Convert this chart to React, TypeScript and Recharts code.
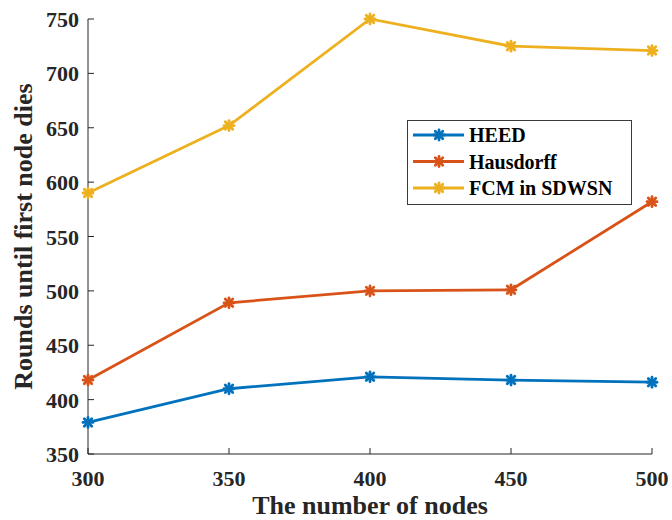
import React from 'react';
import { LineChart, Line, XAxis, YAxis, Legend } from 'recharts';

// Network sizes (x axis)
const nodeCounts = [300, 350, 400, 450, 500];

// Rounds until the first node dies, per protocol
const heed = [379, 410, 421, 418, 416];
const hausdorff = [418, 489, 500, 501, 582];
const fcmSdwsn = [590, 652, 750, 725, 721];

const xTicks = [300, 350, 400, 450, 500];
const yTicks = [350, 400, 450, 500, 550, 600, 650, 700, 750];

const seriesDefs = [
  { key: 'heed', name: 'HEED', color: '#0072BD' },
  { key: 'hausdorff', name: 'Hausdorff', color: '#D95319' },
  { key: 'fcm', name: 'FCM in SDWSN', color: '#EDB120' },
];

const rows = nodeCounts.map((n, i) => ({
  nodes: n,
  heed: heed[i],
  hausdorff: hausdorff[i],
  fcm: fcmSdwsn[i],
}));

const FONT = '"Liberation Serif", "Times New Roman", serif';
const AXIS = '#262626';
const TICK = 6;

// asterisk marker (plus + cross)
const Star = ({ cx, cy, color, r = 5 }: any) => {
  if (cx == null || cy == null) return null;
  const d = r * 0.75;
  return (
    <g stroke={color} strokeWidth={2.8} strokeLinecap="round">
      <line x1={cx - r} y1={cy} x2={cx + r} y2={cy} />
      <line x1={cx} y1={cy - r} x2={cx} y2={cy + r} />
      <line x1={cx - d} y1={cy - d} x2={cx + d} y2={cy + d} />
      <line x1={cx - d} y1={cy + d} x2={cx + d} y2={cy - d} />
    </g>
  );
};

const BottomTick = (p: any) => (
  <g>
    <line x1={p.x} y1={p.y} x2={p.x} y2={p.y - TICK} stroke={AXIS} strokeWidth={1} />
    <text x={p.x} y={p.y + 32} textAnchor="middle" fontFamily={FONT} fontWeight="bold" fontSize={22} fill={AXIS}>
      {p.payload.value}
    </text>
  </g>
);

const LeftTick = (p: any) => (
  <g>
    <line x1={p.x} y1={p.y} x2={p.x + TICK} y2={p.y} stroke={AXIS} strokeWidth={1} />
    <text x={p.x - 9} y={p.y + 8} textAnchor="end" fontFamily={FONT} fontWeight="bold" fontSize={22} fill={AXIS}>
      {p.payload.value}
    </text>
  </g>
);

const TopTick = (p: any) => (
  <line x1={p.x} y1={p.y} x2={p.x} y2={p.y + TICK} stroke={AXIS} strokeWidth={1} />
);

const RightTick = (p: any) => (
  <line x1={p.x} y1={p.y} x2={p.x - TICK} y2={p.y} stroke={AXIS} strokeWidth={1} />
);

const XTitle = ({ viewBox }: any) => (
  <text
    x={viewBox.x + viewBox.width / 2}
    y={viewBox.y + 60}
    textAnchor="middle"
    fontFamily={FONT}
    fontWeight="bold"
    fontSize={26}
    fill={AXIS}
  >
    The number of nodes
  </text>
);

const YTitle = ({ viewBox }: any) => {
  const cx = 32;
  const cy = viewBox.y + viewBox.height / 2;
  return (
    <text
      x={cx}
      y={cy}
      transform={`rotate(-90, ${cx}, ${cy})`}
      textAnchor="middle"
      fontFamily={FONT}
      fontWeight="bold"
      fontSize={26}
      fill={AXIS}
    >
      Rounds until first node dies
    </text>
  );
};

const LegendBox = () => (
  <svg width={225} height={85} style={{ display: 'block' }}>
    <rect x={0.5} y={0.5} width={224} height={84} fill="#fff" stroke="#3a3a3a" strokeWidth={1} />
    {seriesDefs.map((s, i) => {
      const cy = 15 + i * 26.5;
      return (
        <g key={s.key}>
          <line x1={6} y1={cy} x2={57} y2={cy} stroke={s.color} strokeWidth={2.8} />
          <Star cx={32} cy={cy} color={s.color} />
          <text x={62} y={cy + 7} fontFamily={FONT} fontWeight="bold" fontSize={20} fill="#000">
            {s.name}
          </text>
        </g>
      );
    })}
  </svg>
);

export default function App() {
  return (
    <div style={{ position: 'absolute', left: 0, top: 0, width: 672, height: 520, background: '#fff' }}>
      <LineChart width={672} height={520} data={rows} margin={{ top: 19, right: 20, left: 0, bottom: 0 }}>
        <XAxis
          dataKey="nodes"
          type="number"
          domain={[300, 500]}
          ticks={xTicks}
          height={66}
          tickSize={0}
          tickMargin={0}
          tickLine={false}
          axisLine={{ stroke: AXIS, strokeWidth: 1 }}
          tick={BottomTick}
          interval={0}
          label={<XTitle />}
        />
        <XAxis
          xAxisId="top"
          orientation="top"
          dataKey="nodes"
          type="number"
          domain={[300, 500]}
          ticks={xTicks}
          height={0}
          tickSize={0}
          tickMargin={0}
          tickLine={false}
          axisLine={{ stroke: AXIS, strokeWidth: 1 }}
          tick={TopTick}
          interval={0}
        />
        <YAxis
          type="number"
          domain={[350, 750]}
          ticks={yTicks}
          width={88}
          tickSize={0}
          tickMargin={0}
          tickLine={false}
          axisLine={{ stroke: AXIS, strokeWidth: 1 }}
          tick={LeftTick}
          interval={0}
          label={<YTitle />}
        />
        <YAxis
          yAxisId="right"
          orientation="right"
          type="number"
          domain={[350, 750]}
          ticks={yTicks}
          width={0}
          tickSize={0}
          tickMargin={0}
          tickLine={false}
          axisLine={{ stroke: AXIS, strokeWidth: 1 }}
          tick={RightTick}
          interval={0}
        />
        <Legend
          layout="vertical"
          align="center"
          verticalAlign="middle"
          content={<LegendBox />}
          wrapperStyle={{ left: 407, top: 120, width: 225, height: 85 }}
        />
        {seriesDefs.map((s) => (
          <Line
            key={s.key}
            type="linear"
            dataKey={s.key}
            name={s.name}
            stroke={s.color}
            strokeWidth={2.8}
            dot={(p: any) => <Star key={`${s.key}-${p.index}`} cx={p.cx} cy={p.cy} color={s.color} />}
            activeDot={false}
            isAnimationActive={false}
          />
        ))}
      </LineChart>
    </div>
  );
}
